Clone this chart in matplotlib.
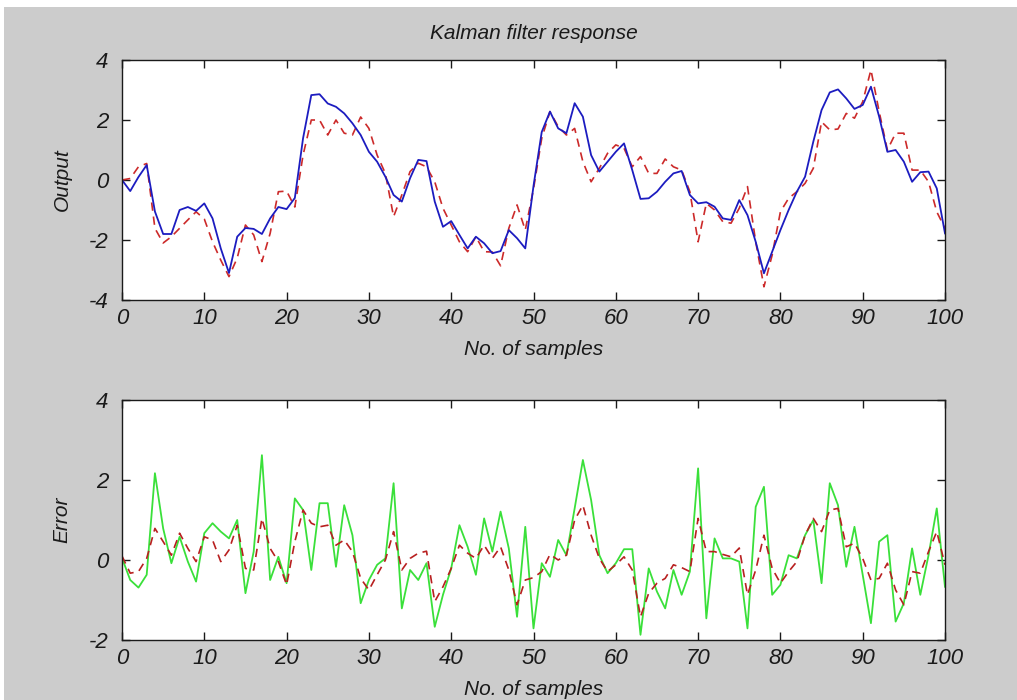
import numpy as np
import matplotlib
matplotlib.use("Agg")
import matplotlib.pyplot as plt
from matplotlib.patches import Rectangle

samples = list(range(101))

filtered_output = [
    0.0, -0.37, 0.1, 0.5, -1.05, -1.8, -1.8, -1.0, -0.9, -1.03,
    -0.78, -1.28, -2.28, -3.1, -1.89, -1.6, -1.63, -1.8, -1.28, -0.9,
    -0.97, -0.6, 1.39, 2.83, 2.86, 2.55, 2.44, 2.22, 1.89, 1.5,
    0.94, 0.61, 0.11, -0.5, -0.72, 0.06, 0.67, 0.63, -0.72, -1.56,
    -1.37, -1.83, -2.28, -1.89, -2.11, -2.44, -2.37, -1.67, -1.94, -2.28,
    -0.2, 1.6, 2.28, 1.72, 1.56, 2.56, 2.11, 0.83, 0.28, 0.61,
    0.94, 1.22, 0.33, -0.63, -0.61, -0.39, -0.06, 0.22, 0.3, -0.5,
    -0.78, -0.74, -0.89, -1.28, -1.33, -0.67, -1.17, -2.06, -3.11, -2.39,
    -1.67, -1.0, -0.39, 0.11, 1.28, 2.33, 2.92, 3.02, 2.72, 2.37,
    2.5, 3.11, 2.11, 0.94, 1.0, 0.61, -0.06, 0.26, 0.28, -0.28,
    -1.78]

true_output = [
    0.0, 0.05, 0.44, 0.55, -1.61, -2.1, -1.89, -1.61, -1.33, -1.06,
    -1.3, -2.06, -2.67, -3.22, -2.6, -1.5, -1.83, -2.72, -1.78, -0.39,
    -0.37, -0.9, 0.83, 2.0, 2.0, 1.5, 2.0, 1.56, 1.5, 2.1,
    1.72, 0.83, 0.22, -1.22, -0.5, 0.28, 0.56, 0.44, -0.06, -0.94,
    -1.5, -2.06, -2.39, -1.89, -2.39, -2.4, -2.86, -1.61, -0.83, -1.67,
    -0.3, 1.39, 2.28, 1.78, 1.5, 1.72, 0.61, -0.06, 0.39, 0.89,
    1.17, 1.06, 0.44, 0.78, 0.22, 0.22, 0.7, 0.44, 0.33, -0.39,
    -2.06, -0.78, -1.0, -1.39, -1.44, -0.94, -0.22, -2.06, -3.56, -2.5,
    -1.06, -0.61, -0.39, -0.11, 0.39, 1.94, 1.67, 1.7, 2.22, 2.06,
    2.61, 3.67, 2.28, 1.0, 1.56, 1.56, 0.33, 0.33, -0.06, -1.06,
    -1.61]

measurement_error = [
    0.05, -0.5, -0.69, -0.37, 2.17, 0.79, -0.08, 0.58, -0.04, -0.54,
    0.67, 0.92, 0.71, 0.54, 1.0, -0.83, 0.21, 2.62, -0.5, 0.08,
    -0.58, 1.54, 1.25, -0.25, 1.42, 1.42, -0.17, 1.37, 0.62, -1.08,
    -0.5, -0.12, 0.04, 1.92, -1.21, -0.25, -0.5, -0.08, -1.67, -0.87,
    -0.21, 0.87, 0.33, -0.37, 1.04, 0.21, 1.21, 0.29, -1.42, 0.83,
    -1.71, -0.08, -0.42, 0.5, 0.12, 1.29, 2.5, 1.5, 0.12, -0.33,
    -0.08, 0.27, 0.27, -1.87, -0.21, -0.79, -1.21, -0.25, -0.87, -0.29,
    2.29, -1.46, 0.54, 0.04, 0.04, -0.04, -1.71, 1.33, 1.83, -0.87,
    -0.62, 0.12, 0.04, 0.62, 1.0, -0.58, 1.92, 1.37, -0.17, 0.83,
    -0.37, -1.58, 0.46, 0.62, -1.54, -1.08, 0.29, -0.87, 0.12, 1.29,
    -0.67]

estimation_error = [
    0.1, -0.33, -0.29, 0.04, 0.79, 0.46, 0.12, 0.67, 0.29, -0.04,
    0.58, 0.5, -0.04, 0.25, 0.87, -0.21, -0.25, 1.04, 0.29, -0.04,
    -0.62, 0.46, 1.25, 0.92, 0.83, 0.87, 0.37, 0.5, 0.21, -0.46,
    -0.75, -0.37, 0.0, 0.71, -0.25, 0.04, 0.17, 0.22, -1.04, -0.67,
    -0.21, 0.37, 0.17, 0.04, 0.37, 0.04, 0.33, -0.25, -1.12, -0.5,
    -0.44, -0.29, 0.14, 0.0, 0.12, 1.0, 1.37, 0.62, 0.04, -0.29,
    -0.12, 0.08, -0.25, -1.42, -0.83, -0.58, -0.46, -0.12, -0.19, -0.29,
    1.04, 0.21, 0.21, 0.14, 0.08, 0.3, -0.87, -0.25, 0.62, -0.21,
    -0.58, -0.29, -0.04, 0.62, 1.04, 0.71, 1.25, 1.29, 0.33, 0.42,
    0.04, -0.5, -0.46, -0.08, -0.75, -1.12, -0.29, -0.33, 0.21, 0.71,
    -0.12]

x_ticks = [0, 10, 20, 30, 40, 50, 60, 70, 80, 90, 100]
top_y_ticks = [-4, -2, 0, 2, 4]
bottom_y_ticks = [-2, 0, 2, 4]

plt.rcParams['font.family'] = ['Liberation Sans', 'DejaVu Sans']
plt.rcParams['font.style'] = 'italic'
plt.rcParams['axes.unicode_minus'] = False

W, H = 1017, 700
fig = plt.figure(figsize=(W / 100, H / 100), dpi=100, facecolor='white')
fig.patches.append(Rectangle((4 / W, 0), 1 - 4 / W, 1 - 7 / H, transform=fig.transFigure,
                             facecolor='#cccccc', edgecolor='none', zorder=-10))

def make_axes(top_px, bottom_px):
    left = 122 / W
    width = (945 - 122) / W
    b = 1 - bottom_px / H
    h = (bottom_px - top_px) / H
    return fig.add_axes([left, b, width, h])

blue = '#1c1cc0'
red = '#cc2a2a'
green = '#3ae03a'
red2 = '#b82020'
txt = '#1a1a1a'

ax1 = make_axes(60, 300)
ax1.plot(samples, true_output, color=red, lw=1.2, ls=(0, (5, 3.5)))
ax1.plot(samples, filtered_output, color=blue, lw=1.3)
ax1.set_xlim(0, 100)
ax1.set_ylim(-4, 4)
ax1.set_yticks(top_y_ticks)
ax1.set_ylabel('Output', fontsize=15, style='italic', labelpad=12, color=txt)
ax1.set_xlabel('No. of samples', fontsize=15, style='italic', labelpad=8, color=txt)
ax1.set_title('Kalman filter response', fontsize=15, style='italic', pad=15, color=txt)

ax2 = make_axes(400, 640)
ax2.plot(samples, measurement_error, color=green, lw=1.3)
ax2.plot(samples, estimation_error, color=red2, lw=1.2, ls=(0, (5, 3.5)))
ax2.set_xlim(0, 100)
ax2.set_ylim(-2, 4)
ax2.set_yticks(bottom_y_ticks)
ax2.set_ylabel('Error', fontsize=15, style='italic', labelpad=12, color=txt)
ax2.set_xlabel('No. of samples', fontsize=15, style='italic', labelpad=8, color=txt)

for ax in (ax1, ax2):
    ax.set_xticks(x_ticks)
    ax.set_facecolor('white')
    ax.tick_params(direction='in', length=6, width=1, top=True, right=True,
                   labelsize=16, pad=6, colors=txt)
    ax.tick_params(axis='y', pad=10)
    for lab in ax.get_xticklabels() + ax.get_yticklabels():
        lab.set_style('italic')
    for s in ax.spines.values():
        s.set_color(txt)
        s.set_linewidth(1.0)

fig.savefig('out.png', dpi=100, facecolor=fig.get_facecolor())
